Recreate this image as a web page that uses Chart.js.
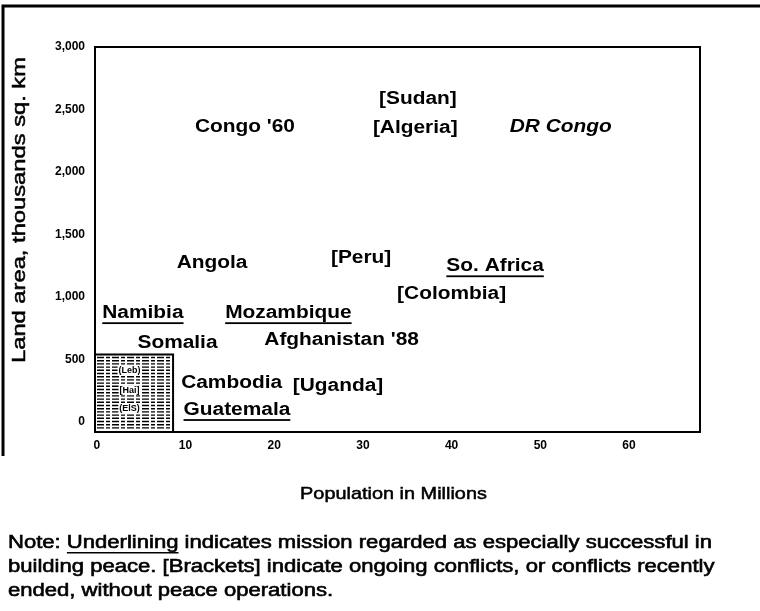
<!DOCTYPE html>
<html>
<head>
<meta charset="utf-8">
<script src="https://cdn.jsdelivr.net/npm/chart.js@4/dist/chart.umd.min.js"></script>
<style>
  html, body { margin: 0; padding: 0; background: #fff; }
  canvas { display: block; }
</style>
</head>
<body>
<canvas id="grafica" width="760" height="611"></canvas>
<script>
// countries with peace operations: population (millions) vs land area (thousand sq. km)
const countries = ["[Sudan]", "[Algeria]", "Congo '60", "DR Congo", "Angola", "[Peru]", "So. Africa",
    "[Colombia]", "Namibia", "Mozambique", "Somalia", "Afghanistan '88", "Cambodia", "[Uganda]", "Guatemala"];
const population = [36.2, 35.9, 16.7, 52.3, 13.0, 29.8, 44.9, 40.0, 5.2, 21.6, 9.1, 27.6, 15.2, 27.2, 15.8];
const landArea = [2580, 2355, 2360, 2360, 1275, 1310, 1245, 1025, 870, 870, 630, 655, 310, 285, 95];
const successful = ["So. Africa", "Namibia", "Mozambique", "Guatemala"];
const ongoingMission = ["DR Congo"];

// small countries lumped in the shaded box (labels barely legible in the source)
const smallCountries = ["(Leb)", "[Hai]", "(ElS)"];
const smallPopulation = [3.7, 3.7, 3.7];
const smallArea = [415, 255, 110];
const smallBoxPop = [-0.2, 8.6];
const smallBoxArea = [-80, 540];

const xTicks = [0, 10, 20, 30, 40, 50, 60];
const yTicks = [0, 500, 1000, 1500, 2000, 2500, 3000];

const FONT = "'Liberation Sans', Arial, Helvetica, sans-serif";
const STRETCH = 1.16; // the scanned lettering is wider than Arial

function textAmple(c, text, x, y, f, gruix) {
    c.save();
    c.translate(x, y);
    c.scale(f, 1);
    c.fillText(text, 0, 0);
    if (gruix) {
        c.lineWidth = gruix;
        c.strokeStyle = "#000";
        c.strokeText(text, 0, 0);
    }
    c.restore();
}

const dibuix = {
    id: "dibuix",
    beforeDraw(chart) {
        const c = chart.ctx;
        c.save();
        c.fillStyle = "#fff";
        c.fillRect(0, 0, chart.width, chart.height);
        c.restore();
    },
    afterDatasetsDraw(chart) {
        const c = chart.ctx;
        const sx = chart.scales.x, sy = chart.scales.y;
        const a = chart.chartArea;
        c.save();

        // shaded box of small countries
        const bx0 = sx.getPixelForValue(smallBoxPop[0]), bx1 = sx.getPixelForValue(smallBoxPop[1]);
        const by0 = sy.getPixelForValue(smallBoxArea[1]), by1 = sy.getPixelForValue(smallBoxArea[0]);
        c.fillStyle = "#fff";
        c.fillRect(bx0, by0, bx1 - bx0, by1 - by0);
        c.strokeStyle = "#000";
        c.lineWidth = 1.4;
        c.setLineDash([7, 2, 4, 2]);
        for (let yy = by0 + 3; yy < by1 - 1; yy += 3.2) {
            c.beginPath();
            c.moveTo(bx0 + 2, yy);
            c.lineTo(bx1 - 2, yy);
            c.stroke();
        }
        c.setLineDash([]);
        c.lineWidth = 2;
        c.strokeRect(bx0, by0, bx1 - bx0, by1 - by0);
        c.font = "bold 9px " + FONT;
        c.textAlign = "center";
        c.textBaseline = "middle";
        smallCountries.forEach((n, i) => {
            const px = sx.getPixelForValue(smallPopulation[i]);
            const py = sy.getPixelForValue(smallArea[i]);
            const w = c.measureText(n).width;
            c.fillStyle = "#fff";
            c.fillRect(px - w / 2 - 1, py - 5, w + 2, 10);
            c.fillStyle = "#000";
            c.fillText(n, px, py);
        });

        // country labels
        countries.forEach((n, i) => {
            const px = sx.getPixelForValue(population[i]);
            const py = sy.getPixelForValue(landArea[i]);
            const italic = ongoingMission.includes(n) ? "italic " : "";
            c.font = italic + "bold 18px " + FONT;
            c.fillStyle = "#000";
            c.textAlign = "center";
            c.textBaseline = "middle";
            textAmple(c, n, px, py, STRETCH);
            if (successful.includes(n)) {
                const w = c.measureText(n).width * STRETCH;
                c.fillRect(px - w / 2, py + 9, w, 1.8);
            }
        });

        // plot frame
        c.lineWidth = 2;
        c.strokeStyle = "#000";
        c.strokeRect(a.left, a.top, a.right - a.left, a.bottom - a.top);
        c.restore();
    },
    afterDraw(chart) {
        const c = chart.ctx;
        const a = chart.chartArea;
        c.save();
        c.fillStyle = "#000";
        c.textBaseline = "middle";

        // axis titles
        c.font = "17px " + FONT;
        c.textAlign = "center";
        textAmple(c, "Population in Millions", (a.left + a.right) / 2 - 4, 494, 1.17, 0.5);
        c.save();
        c.translate(20, 210);
        c.rotate(-Math.PI / 2);
        c.font = "18px " + FONT;
        const wt = c.measureText("Land area, thousands sq. km").width;
        textAmple(c, "Land area, thousands sq. km", 0, 0, 306 / wt, 0.5);
        c.restore();

        // note, stretched to the width of the scanned lines
        c.font = "18px " + FONT;
        c.textAlign = "left";
        const l1 = ["Note: ", "Underlining", " indicates mission regarded as especially successful in"];
        const f = 704 / c.measureText(l1.join("")).width;
        let x = 8;
        textAmple(c, l1[0], x, 543, f, 0.6);
        x += c.measureText(l1[0]).width * f;
        textAmple(c, l1[1], x, 543, f, 0.6);
        const wu = c.measureText(l1[1]).width * f;
        c.fillRect(x, 552, wu, 1.5);
        x += wu;
        textAmple(c, l1[2], x, 543, f, 0.6);
        textAmple(c, "building peace. [Brackets] indicate ongoing conflicts, or conflicts recently", 8, 567, f, 0.6);
        textAmple(c, "ended, without peace operations.", 8, 591, f, 0.6);

        // outer frame
        c.lineWidth = 3;
        c.beginPath();
        c.moveTo(3, 456);
        c.lineTo(3, 6);
        c.lineTo(760, 6);
        c.stroke();
        c.restore();
    }
};

const ctx = document.getElementById("grafica").getContext("2d");
const grafica = new Chart(ctx, {
    type: "scatter",
    data: {
        datasets: [{
            data: countries.map((n, i) => ({ x: population[i], y: landArea[i] })),
            pointRadius: 0
        }]
    },
    options: {
        responsive: false,
        animation: false,
        layout: { padding: { top: 47, right: 60, left: 0, bottom: 0 } },
        plugins: { legend: { display: false }, tooltip: { enabled: false } },
        scales: {
            x: {
                type: "linear",
                min: -0.2,
                max: 68,
                grid: { display: false, drawTicks: false },
                border: { display: false },
                afterBuildTicks: s => { s.ticks = xTicks.map(v => ({ value: v })); },
                afterFit: s => { s.height = 179; },
                ticks: {
                    color: "#000",
                    padding: 6,
                    maxRotation: 0,
                    autoSkip: false,
                    font: { family: FONT, size: 12, weight: "bold" },
                    callback: v => v
                }
            },
            y: {
                type: "linear",
                min: -80,
                max: 3000,
                grid: { display: false, drawTicks: false },
                border: { display: false },
                afterBuildTicks: s => { s.ticks = yTicks.map(v => ({ value: v })); },
                afterFit: s => { s.width = 95; },
                ticks: {
                    color: "#000",
                    padding: 10,
                    autoSkip: false,
                    font: { family: FONT, size: 12, weight: "bold" },
                    callback: v => v.toLocaleString("en-US")
                }
            }
        }
    },
    plugins: [dibuix]
});
</script>
</body>
</html>
